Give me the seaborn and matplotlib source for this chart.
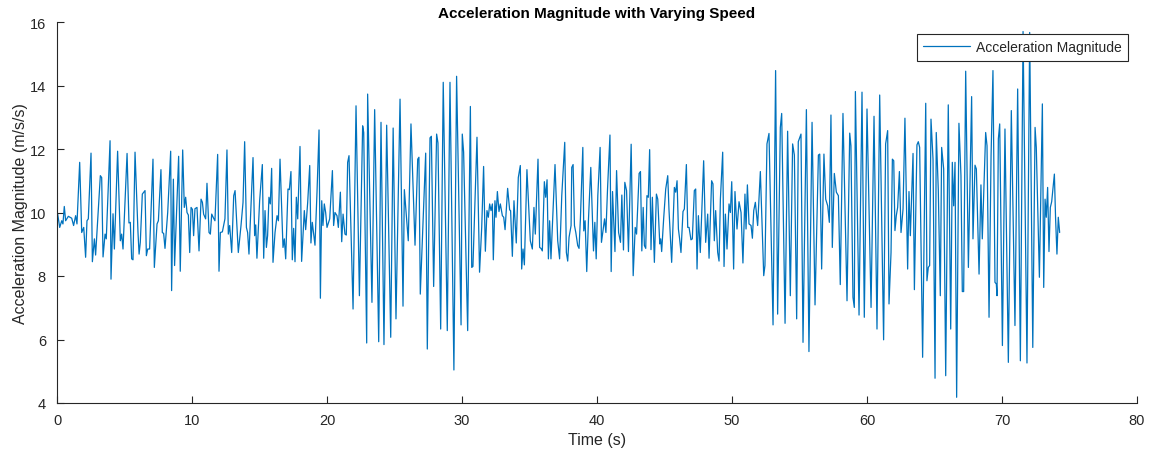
import matplotlib
matplotlib.use("Agg")
import matplotlib.pyplot as plt
import seaborn as sns
import pandas as pd

time_s = [
    0.05, 0.2, 0.35, 0.44, 0.54, 0.64, 0.84, 1.09, 1.23, 1.38, 1.48, 1.68, 1.83, 1.98, 2.12, 2.22, 2.32, 2.52, 2.62, 2.77,
    2.86, 3.21, 3.31, 3.41, 3.56, 3.65, 3.93, 4.0, 4.15, 4.25, 4.49, 4.69, 4.79, 4.89, 5.19, 5.33, 5.43, 5.53, 5.63, 5.78,
    6.0, 6.08,
    6.17, 6.32, 6.52, 6.62, 6.72, 6.86, 7.11, 7.21, 7.41, 7.51, 7.7, 7.8, 7.9, 8.0, 8.2, 8.42, 8.49, 8.62, 8.71, 9.01,
    9.13, 9.31, 9.43, 9.53, 9.63, 9.73, 9.83, 9.93, 10.03, 10.12, 10.22, 10.37, 10.52, 10.67, 10.77, 10.86, 11.01, 11.11,
    11.26, 11.36, 11.46, 11.6, 11.7, 11.9, 12.0, 12.1, 12.25, 12.34,
    12.44, 12.59, 12.69, 12.79, 12.94, 13.09, 13.19, 13.43, 13.63, 13.78, 13.9, 14.03, 14.12, 14.22, 14.52, 14.64, 14.72,
    14.81, 15.01, 15.21, 15.31, 15.41, 15.51, 15.6, 15.7, 15.8, 15.9, 16.0, 16.15, 16.3, 16.4, 16.52, 16.74, 16.84, 16.94,
    17.11, 17.21, 17.33, 17.43, 17.53, 17.63, 17.73, 17.83, 18.0, 18.12, 18.32, 18.42, 18.57,
    18.72, 18.81, 18.91, 19.11, 19.26, 19.41, 19.51, 19.61, 19.7, 19.8, 19.9, 20.0, 20.2, 20.4, 20.49, 20.59, 20.74, 20.84,
    20.99, 21.09, 21.19, 21.33, 21.43, 21.53, 21.63, 21.93, 22.15, 22.4, 22.64, 22.72, 22.94, 23.01, 23.33, 23.53, 23.83,
    24.0, 24.22, 24.42, 24.72, 24.9,
    25.11, 25.41, 25.63, 25.73, 26.02, 26.22, 26.52, 26.72, 26.81, 26.91, 27.31, 27.43, 27.63, 27.73, 27.9, 28.12, 28.22,
    28.42, 28.61, 28.91, 29.11, 29.4, 29.6, 29.93, 30.02, 30.12, 30.42, 30.62, 30.72, 30.81, 31.11,
    31.3, 31.46, 31.6, 31.73, 31.85, 31.95, 32.05, 32.15, 32.25, 32.32, 32.44, 32.52, 32.62, 32.74, 32.84, 32.99, 33.09,
    33.19, 33.38, 33.53, 33.6, 33.73, 33.85, 34.02, 34.17, 34.32, 34.42, 34.52, 34.62, 34.81, 35.06, 35.21, 35.33, 35.43,
    35.63, 35.75, 35.85, 35.95, 36.1, 36.2, 36.3, 36.4, 36.49, 36.59, 36.89, 37.09, 37.23,
    37.39, 37.61, 37.73, 37.83, 37.93, 38.08, 38.13, 38.23, 38.33, 38.43, 38.57, 38.67, 38.77, 38.95, 39.02, 39.12, 39.24,
    39.37, 39.54, 39.74, 39.84, 39.94, 40.06, 40.23, 40.33, 40.56, 40.66, 40.78, 40.96, 41.05, 41.15, 41.33, 41.45, 41.6,
    41.74, 41.84, 41.96, 42.06, 42.19, 42.33, 42.53, 42.68, 42.83, 42.93, 43.12, 43.22, 43.32, 43.42, 43.51,
    43.61, 43.7, 43.8, 43.9, 44.0, 44.1, 44.25, 44.4, 44.5, 44.65, 44.72, 44.79, 44.94, 45.09, 45.24, 45.33, 45.53, 45.73,
    45.83, 45.93, 46.03, 46.12, 46.22, 46.37, 46.47, 46.62, 46.72, 46.82, 46.96, 47.06, 47.21, 47.31, 47.41, 47.51, 47.65,
    47.9, 48.05, 48.2, 48.3, 48.49, 48.59, 48.69, 48.79, 48.94, 49.04, 49.14, 49.31, 49.41, 49.51, 49.63,
    49.78, 49.88, 49.98, 50.12, 50.22, 50.37, 50.52, 50.67, 50.81, 50.96, 51.04, 51.14, 51.26, 51.41, 51.51, 51.61, 51.73,
    51.9, 52.1, 52.35, 52.44, 52.59, 52.74, 53.04, 53.23, 53.38, 53.58, 53.68, 53.93, 54.12, 54.32, 54.49, 54.62, 54.79,
    54.91, 55.11, 55.26, 55.51, 55.7, 55.93,
    56.15, 56.4, 56.5, 56.64, 56.81, 56.94, 57.09, 57.21, 57.33, 57.43, 57.58, 57.73, 57.88, 58.02, 58.22, 58.52, 58.72,
    58.81, 58.96, 59.06, 59.14, 59.41, 59.63, 59.8, 60.0, 60.3, 60.52, 60.74, 60.94, 61.23, 61.38, 61.53, 61.63, 61.78,
    61.88, 61.98, 62.07, 62.17,
    62.27, 62.4, 62.52, 62.67, 62.81, 63.01, 63.11, 63.21, 63.41, 63.51, 63.7, 63.8, 63.9, 64.12, 64.35, 64.44, 64.54,
    64.64, 64.74, 64.89, 65.04, 65.13, 65.28, 65.43, 65.53, 65.68, 65.83, 66.02, 66.2, 66.32, 66.42, 66.52, 66.64, 66.81,
    66.96, 67.06, 67.16, 67.31, 67.51, 67.75, 67.85, 68.0, 68.1, 68.3, 68.44,
    68.54, 68.79, 68.89, 69.04, 69.19, 69.33, 69.48, 69.58, 69.63, 69.73, 69.83, 70.03, 70.22, 70.47, 70.69, 70.96, 71.16,
    71.36, 71.56, 71.85, 72.05, 72.28, 72.45, 72.54, 72.77, 72.99, 73.09, 73.19, 73.28, 73.38, 73.48, 73.58, 73.68, 73.88,
    73.97, 74.07, 74.17, 74.27,
]

accel_mag = [
    9.95, 9.53, 9.74, 9.64, 10.19, 9.74, 9.88, 9.82, 9.59, 9.9, 9.64, 11.58, 9.37, 9.53, 8.59, 9.74, 9.8, 11.87, 8.45, 9.17,
    8.66, 11.16, 11.1, 8.6, 9.32, 9.17, 12.26, 7.9, 9.96, 8.85, 11.93, 9.11, 9.32, 8.85, 11.86, 9.67, 9.69, 8.54, 8.51, 11.9,
    9.37, 8.69,
    9.06, 10.58, 10.69, 8.64, 8.85, 8.85, 11.68, 8.27, 9.64, 9.74, 11.35, 9.37, 9.34, 8.87, 10.0, 11.93, 7.54, 11.05, 8.33, 11.77,
    8.15, 11.97, 10.16, 10.48, 10.0, 9.92, 8.74, 10.16, 10.1, 9.27, 10.12, 10.16, 8.79, 10.42, 10.32, 9.95, 9.8, 10.92,
    9.37, 9.32, 9.95, 9.82, 9.74, 11.83, 8.15, 9.37, 9.39, 9.59,
    9.8, 11.97, 9.32, 9.59, 8.74, 10.53, 10.69, 8.74, 9.59, 10.32, 12.23, 9.53, 9.37, 8.69, 11.73, 9.27, 9.61,
    8.56, 10.37, 11.51, 8.56, 10.06, 8.9, 9.27, 10.48, 10.27, 11.39, 8.43, 9.37, 9.9, 9.74, 11.68, 8.9, 9.17, 8.54,
    10.74, 10.72, 11.29, 8.51, 9.5, 8.45, 10.48, 9.8, 12.08, 8.46, 10.06, 9.46, 10.32,
    11.48, 9.04, 9.69, 8.97, 10.64, 12.6, 7.3, 10.37, 9.59, 10.27, 10.0, 9.53, 9.8, 11.32, 9.59, 10.0, 9.9, 9.53,
    10.64, 9.08, 9.95, 9.32, 9.29, 11.58, 11.79, 6.96, 13.36, 7.38, 12.73, 12.52, 5.89, 13.73, 7.17, 13.24, 5.93,
    12.84, 5.84, 12.75, 6.07, 12.66,
    6.65, 13.57, 7.05, 10.72, 9.11, 12.79, 8.97, 11.68, 11.74, 7.43, 11.87, 5.7, 12.35, 12.4, 7.67, 12.47, 12.19,
    6.33, 14.1, 6.28, 14.1, 5.04, 14.29, 6.46, 12.47, 11.9, 6.28, 13.34, 8.27, 8.3, 12.37,
    8.12, 9.53, 11.45, 8.78, 10.06, 9.85, 10.27, 10.06, 10.27, 8.51, 10.37, 9.85, 10.66, 10.03, 10.27, 9.9, 9.85,
    9.46, 10.76, 10.08, 10.06, 8.62, 10.37, 9.04, 11.1, 11.48, 8.22, 8.85, 8.35, 11.35, 9.11, 8.85, 10.16, 9.32,
    11.68, 8.9, 8.87, 8.79, 10.97, 10.48, 11.03, 8.54, 9.74, 8.54, 11.51, 9.11, 8.54,
    10.53, 12.21, 8.74, 8.47, 9.22, 9.59, 11.42, 11.51, 9.59, 9.37, 8.96, 8.87, 9.8, 12.05, 9.42, 9.74, 8.14,
    9.8, 11.42, 8.79, 9.69, 8.54, 10.53, 12.05, 9.06, 9.8, 9.37, 10.74, 12.44, 8.14, 10.66, 8.77, 11.32, 9.37,
    9.06, 10.55, 8.82, 10.95, 10.69, 8.77, 12.15, 8.01, 9.53, 9.32, 11.23, 11.29, 8.79, 10.16, 8.96,
    8.87, 10.53, 10.48, 11.98, 8.83, 10.48, 8.43, 10.58, 10.42, 9.01, 9.17, 8.77, 9.82, 10.74, 11.16, 10.11, 8.43, 10.79,
    10.64, 11.0, 9.48, 9.17, 8.74, 10.03, 10.11, 11.51, 9.53, 9.53, 9.14, 9.17, 10.69, 10.74, 8.22, 9.9, 8.74,
    11.63, 9.06, 9.95, 8.56, 11.0, 10.9, 9.11, 10.06, 8.74, 8.47, 10.42, 11.9, 8.3, 9.95, 8.85,
    10.27, 10.0, 10.97, 8.22, 10.66, 9.48, 10.34, 10.0, 8.41, 10.58, 9.48, 10.87, 9.64, 9.59, 9.19, 10.06, 10.32,
    9.59, 11.29, 8.01, 8.33, 12.16, 12.49, 6.46, 14.47, 6.8, 12.68, 13.12, 6.51, 12.56, 7.38, 12.16, 11.81, 6.65,
    12.23, 12.47, 5.91, 13.24, 5.62, 12.84,
    7.09, 11.81, 11.84, 8.22, 11.84, 10.42, 10.21, 9.69, 13.07, 8.9, 11.23, 10.64, 10.53, 7.73, 13.12, 7.22, 12.5,
    12.1, 7.33, 7.01, 13.81, 6.77, 13.79, 6.7, 13.26, 7.01, 13.03, 6.33, 13.7, 5.99, 12.16, 12.58, 7.12, 8.74,
    11.68, 11.63, 9.43, 9.9,
    10.16, 11.29, 9.37, 10.11, 12.97, 8.22, 10.66, 9.27, 11.86, 7.57, 12.13, 12.23, 12.05, 5.44, 13.44, 7.85, 8.27,
    8.33, 12.94, 11.68, 4.78, 12.52, 10.72, 7.38, 12.05, 11.37, 4.86, 13.39, 6.33, 11.58, 10.21, 11.58, 4.18, 12.81,
    11.16, 7.51, 7.51, 14.45, 8.27, 13.65, 9.17, 11.49, 11.37, 8.06, 10.87,
    9.17, 12.52, 12.1, 6.7, 11.79, 14.47, 7.8, 7.75, 7.38, 12.32, 12.79, 5.81, 12.63, 5.28, 13.21, 6.44, 13.89,
    5.33, 15.7, 5.26, 15.67, 5.75, 12.68, 12.05, 7.96, 13.42, 7.64, 10.42, 9.85, 10.79, 8.77, 10.16, 10.34, 11.21,
    9.8, 8.69, 9.85, 9.37,
]

x_ticks = [0, 10, 20, 30, 40, 50, 60, 70, 80]
y_ticks = [4, 6, 8, 10, 12, 14, 16]

sns.set_style("white")
plt.rcParams["font.family"] = ["Liberation Sans", "DejaVu Sans"]

df = pd.DataFrame({"Time (s)": time_s, "Acceleration Magnitude": accel_mag})

fig = plt.figure(figsize=(11.6, 4.56), dpi=100)
ax = fig.add_axes([57 / 1160, 1 - 404 / 456, 1080 / 1160, 381 / 456])

sns.lineplot(data=df, x="Time (s)", y="Acceleration Magnitude", ax=ax,
             color="#0072BD", linewidth=0.9, label="Acceleration Magnitude",
             estimator=None, sort=False)

ax.set_xlim(0, 80)
ax.set_ylim(4, 16)
ax.set_xticks(x_ticks)
ax.set_yticks(y_ticks)
dark = "#262626"
for side in ["top", "right"]:
    ax.spines[side].set_visible(False)
for side in ["left", "bottom"]:
    ax.spines[side].set_color(dark)
    ax.spines[side].set_linewidth(0.8)
ax.tick_params(direction="in", length=5, width=0.8, colors=dark, labelsize=10.5,
               bottom=True, left=True)
ax.tick_params(axis="x", pad=7)
ax.tick_params(axis="y", pad=8)
ax.set_xlabel("Time (s)", fontsize=11.5, color=dark, labelpad=4)
ax.set_ylabel("Acceleration Magnitude (m/s/s)", fontsize=11.5, color=dark, labelpad=1)
ax.set_title("Acceleration Magnitude with Varying Speed", fontsize=11, fontweight="bold",
             color="black", pad=3.5)

leg = ax.legend(loc="upper right", bbox_to_anchor=(0.9917, 0.9685), borderaxespad=0,
                fancybox=False, framealpha=1, edgecolor=dark, fontsize=10,
                handlelength=3.4, borderpad=0.45, handletextpad=0.4)
leg.get_frame().set_linewidth(0.8)

fig.savefig("out.png", dpi=100)
